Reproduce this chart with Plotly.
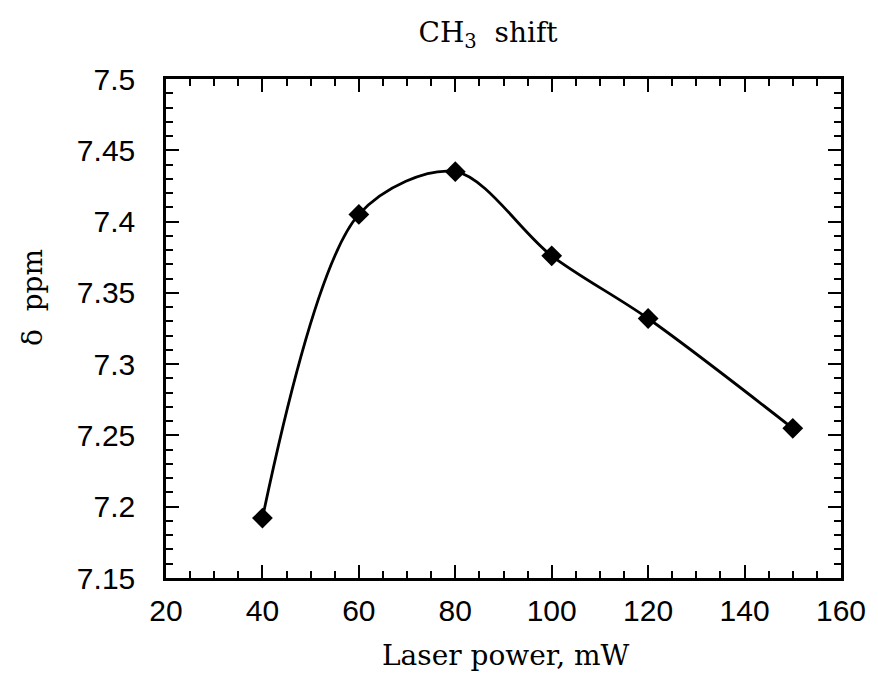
import plotly.graph_objects as go

# Data
laser_power_mw = [40, 60, 80, 100, 120, 150]
shift_ppm = [7.192, 7.405, 7.435, 7.376, 7.332, 7.255]

x_ticks = [20, 40, 60, 80, 100, 120, 140, 160]
y_ticks = [7.15, 7.2, 7.25, 7.3, 7.35, 7.4, 7.45, 7.5]
y_tick_labels = ["7.15", "7.2", "7.25", "7.3", "7.35", "7.4", "7.45", "7.5"]

W, H = 878, 680
L, R, T, B = 166, 37, 79, 102

fig = go.Figure()
fig.add_trace(go.Scatter(
    x=laser_power_mw, y=shift_ppm,
    mode="lines+markers",
    line=dict(color="black", width=2.8, shape="spline", smoothing=0.9),
    marker=dict(symbol="diamond", size=16, color="black"),
    showlegend=False,
))

serif = "DejaVu Serif"
sans = "Liberation Sans"

axis_common = dict(
    showline=True, linecolor="black", linewidth=2.5, mirror="allticks",
    ticks="inside", ticklen=13, tickwidth=2, tickcolor="black",
    showgrid=False, zeroline=False,
    tickfont=dict(family=sans, size=30, color="black"),
)

fig.update_xaxes(
    range=[20, 160], tickvals=x_ticks,
    minor=dict(dtick=5, ticks="inside", ticklen=7, tickwidth=1.5, tickcolor="black", showgrid=False),
    ticklabelstandoff=4,
    **axis_common,
)
fig.update_yaxes(
    range=[7.15, 7.5], tickvals=y_ticks, ticktext=y_tick_labels,
    minor=dict(dtick=0.01, ticks="inside", ticklen=7, tickwidth=1.5, tickcolor="black", showgrid=False),
    ticklabelstandoff=22,
    **axis_common,
)

fig.update_layout(
    width=W, height=H,
    margin=dict(l=L, r=R, t=T, b=B),
    paper_bgcolor="white", plot_bgcolor="white",
    title=dict(
        text="CH<sub>3</sub>  shift",
        font=dict(family=serif, size=28, color="black"),
        x=488 / W, xref="container", xanchor="center",
        y=1 - 32 / H, yref="container", yanchor="middle",
    ),
    annotations=[
        dict(text="Laser power, mW", xref="paper", yref="paper",
             x=(505 - L) / (W - L - R), y=-(655 - (H - B)) / (H - T - B),
             xanchor="center", yanchor="middle", showarrow=False,
             font=dict(family=serif, size=28, color="black")),
        dict(text="δ  ppm", xref="paper", yref="paper", textangle=-90,
             x=-(L - 32) / (W - L - R), y=1 - (298 - T) / (H - T - B),
             xanchor="center", yanchor="middle", showarrow=False,
             font=dict(family=serif, size=28, color="black")),
    ],
)

fig.write_html("out.html", config={"displayModeBar": False},
               post_script="document.body.style.margin='0';")
